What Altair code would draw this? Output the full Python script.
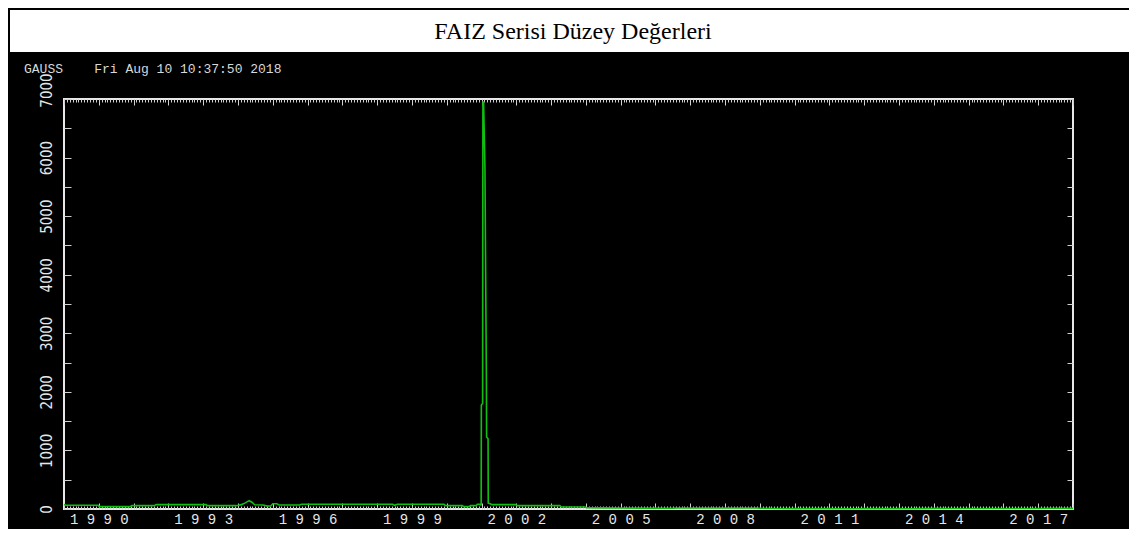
import altair as alt
import pandas as pd

# ---- data (decimal year, FAIZ level) ----
years = [1989.00, 1989.05, 1989.98, 1990.02, 1990.90, 1990.95, 1991.60, 1991.65,
         1993.08, 1993.12, 1993.95, 1994.10, 1994.20, 1994.32, 1994.40, 1994.48,
         1994.72, 1994.85, 1994.95, 1995.00, 1995.12, 1995.18, 1995.78, 1995.82,
         1998.45, 1998.50, 1998.58, 1999.92, 1999.97, 2000.45, 2000.48, 2000.65,
         2000.68, 2000.85, 2000.88, 2000.95, 2000.97, 2000.99, 2000.995, 2001.031,
         2001.040, 2001.060, 2001.098, 2001.140, 2001.146, 2001.188, 2001.193,
         2001.25, 2001.30, 2001.98, 2002.02, 2003.25, 2003.30, 2003.98, 2004.02,
         2004.50, 2005.00, 2005.50, 2006.50, 2006.60, 2007.70, 2008.00, 2008.90,
         2009.00, 2009.50, 2010.00, 2010.50, 2011.00, 2011.80, 2012.00, 2012.50,
         2013.00, 2013.30, 2013.50, 2014.10, 2014.50, 2015.00, 2016.00, 2017.00,
         2017.30, 2018.00]
faiz = [75, 63, 63, 40, 40, 57, 57, 74,
        74, 57, 57, 75, 100, 142, 115, 72,
        68, 50, 55, 90, 90, 68, 68, 80,
        80, 62, 80, 80, 57, 57, 40, 40,
        57, 57, 80, 80, 68, 70, 1775, 1800,
        6950, 6950, 5840, 2200, 1230, 1200, 100,
        90, 74, 74, 57, 57, 34, 34, 22,
        20, 17, 14.5, 14, 17.5, 17, 16, 16.5,
        14, 9, 7, 7, 6, 5, 9, 7,
        6, 5, 7, 11, 9, 8, 8.5, 8,
        12, 12]

x_label_years = [1990, 1993, 1996, 1999, 2002, 2005, 2008, 2011, 2014, 2017]
y_label_values = [0, 1000, 2000, 3000, 4000, 5000, 6000, 7000]
y_tick_values = [v * 500 for v in range(15)]
year_ticks = list(range(1989, 2019))
month_ticks = [y + m / 12 for y in range(1989, 2018) for m in range(12)] + [2018]

title_text = "FAIZ Serisi Düzey Değerleri"
gauss_text = "GAUSS\u00a0\u00a0\u00a0\u00a0Fri Aug 10 10:37:50 2018"

df = pd.DataFrame({"year": years, "faiz": faiz})
one = pd.DataFrame({"k": [0]})

W, H = 1009, 410
TICK = "#d0d0d0"
LAB = "#e6e6e6"

xs = alt.Scale(domain=[1989, 2018], nice=False, zero=False)
ys = alt.Scale(domain=[0, 7000], nice=False, zero=True)


def host(xaxis, yaxis):
    return alt.Chart(df).mark_line(opacity=0).encode(
        x=alt.X("year:Q", scale=xs, axis=xaxis),
        y=alt.Y("faiz:Q", scale=ys, axis=yaxis),
    )


def tick_axis(orient, offset, values, size):
    return alt.Axis(orient=orient, offset=offset, values=values, tickSize=size,
                    tickColor=TICK, tickWidth=1, labels=False, domain=False,
                    grid=False, title=None)


# white title box
title_box = alt.Chart(one).mark_rect(color="white").encode(
    x=alt.value(-54), x2=alt.value(W + 70),
    y=alt.value(-89), y2=alt.value(-47),
)

title_mark = alt.Chart(one).mark_text(
    font="Liberation Serif", fontSize=24, color="black", align="center",
    baseline="alphabetic",
).encode(x=alt.value(509), y=alt.value(-60), text=alt.value(title_text))

gauss_mark = alt.Chart(one).mark_text(
    font="Liberation Mono", fontSize=13, color="#d8d8d8", align="left",
    baseline="alphabetic",
).encode(x=alt.value(-40), y=alt.value(-26), text=alt.value(gauss_text))

h1 = host(tick_axis("top", -H, month_ticks, 3), tick_axis("right", -W, y_tick_values, 7))
h2 = host(tick_axis("top", -H, year_ticks, 6), tick_axis("left", -W, y_tick_values, 6))
h3 = host(tick_axis("bottom", -H, month_ticks, 3), None)
h4 = host(tick_axis("bottom", -H, year_ticks, 6), None)

line = alt.Chart(df).mark_line(color="#10c010", strokeWidth=1.6).encode(
    x=alt.X("year:Q", scale=xs, axis=alt.Axis(
        orient="bottom", values=x_label_years, format="d", ticks=False, tickSize=0,
        domain=False, grid=False, title=None, labelFont="Liberation Mono",
        labelFontSize=14, labelColor=LAB, labelPadding=3, labelAlign="center",
        labelBaseline="top",
        labelExpr="substring(datum.label,0,1)+' '+substring(datum.label,1,2)+' '"
                  "+substring(datum.label,2,3)+' '+substring(datum.label,3,4)")),
    y=alt.Y("faiz:Q", scale=ys, axis=alt.Axis(
        orient="left", values=y_label_values, format="d", ticks=False, tickSize=0,
        domain=False, grid=False, title=None, labelAngle=270,
        labelFont="Liberation Sans Narrow, DejaVu Sans Condensed, sans-serif",
        labelFontSize=15, labelColor=LAB, labelPadding=10, labelAlign="center",
        labelBaseline="bottom",
        labelOffset={"expr": "datum.value == 7000 ? -9 : 0"})),
)

chart = alt.layer(
    title_box, h1, h2, h3, h4, line, title_mark, gauss_mark
).resolve_axis(x="independent", y="independent").properties(
    width=W, height=H,
    autosize=alt.AutoSizeParams(type="none"),
    padding={"left": 56, "top": 91, "right": 56, "bottom": 20},
    background="#000000",
).configure_view(stroke="#e8e8e8", strokeWidth=2)

chart.save("out.html", embed_options={"renderer": "svg", "actions": False})
